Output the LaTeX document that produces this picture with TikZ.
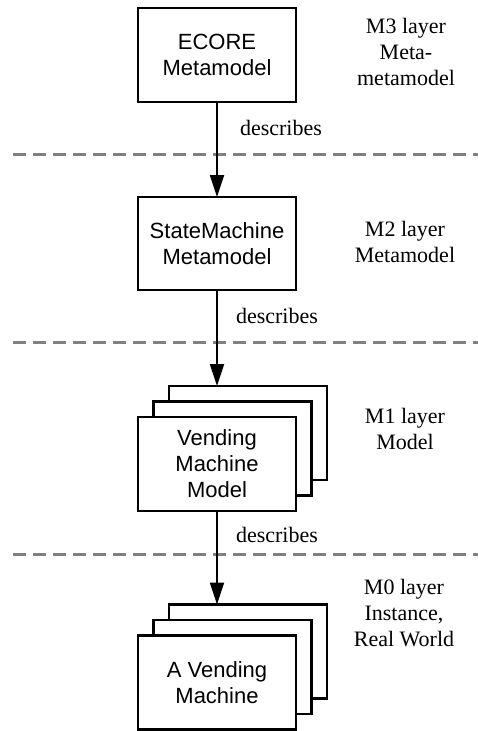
\documentclass[tikz,border=0pt]{standalone}
\usepackage{fontspec}
\setmainfont{Liberation Serif}
\newfontfamily\boxfont{Liberation Sans}
\usetikzlibrary{arrows.meta}
\begin{document}
\begin{tikzpicture}[x=1pt,y=-1pt,
  layerbox/.style={draw, line width=2.4pt, fill=white, outer sep=0pt, inner sep=0pt,
    minimum width=158pt, minimum height=94pt, align=center,
    font=\boxfont\fontsize{22}{26}\selectfont},
  backbox/.style={layerbox},
  layerlabel/.style={align=center, inner sep=0pt, font=\fontsize{22}{26}\selectfont},
  rellabel/.style={inner sep=0pt, font=\fontsize{22}{26}\selectfont},
  describesarrow/.style={line width=2pt, -{Triangle[length=22pt,width=14pt]}},
  separator/.style={draw=black!50, line width=3pt, dash pattern=on 13pt off 7pt}
]
\useasboundingbox (0,0) rectangle (478,731);

% layer separators
\draw[separator] (13,154) -- (478,154);
\draw[separator] (13,342) -- (478,342);
\draw[separator] (13,554) -- (478,554);

% M3
\node[layerbox] (ecore) at (217,55) {ECORE\\Metamodel};
\node[layerlabel] (m3) at (406,51.5) {M3 layer\\Meta-\\metamodel};

% M2
\node[layerbox, minimum height=93pt] (sm) at (217,243.5) {StateMachine\\Metamodel};
\node[layerlabel] (m2) at (405,241.5) {M2 layer\\Metamodel};

% M1: stack of models
\node[backbox] (vmback) at (248,433) {};
\node[backbox] (vmmid) at (232.5,448.5) {};
\node[layerbox] (vm) at (217,464) {Vending\\Machine\\Model};
\node[layerlabel] (m1) at (405,429) {M1 layer\\Model};

% M0: stack of instances
\node[backbox] (avback) at (248,651.5) {};
\node[backbox] (avmid) at (232.5,667) {};
\node[layerbox] (av) at (217,682.5) {A Vending\\Machine};
\node[layerlabel] (m0) at (404,613) {M0 layer\\Instance,\\Real World};

% "describes" relations
\draw[describesarrow] (ecore.south) -- (sm.north);
\draw[describesarrow] (sm.south) -- (sm.south |- vmback.north);
\draw[describesarrow] (vm.south) -- (vm.south |- avback.north);

\node[rellabel] (d1) at (281,127.5) {describes};
\node[rellabel] (d2) at (277,316) {describes};
\node[rellabel] (d3) at (277,535) {describes};
\end{tikzpicture}
\end{document}
